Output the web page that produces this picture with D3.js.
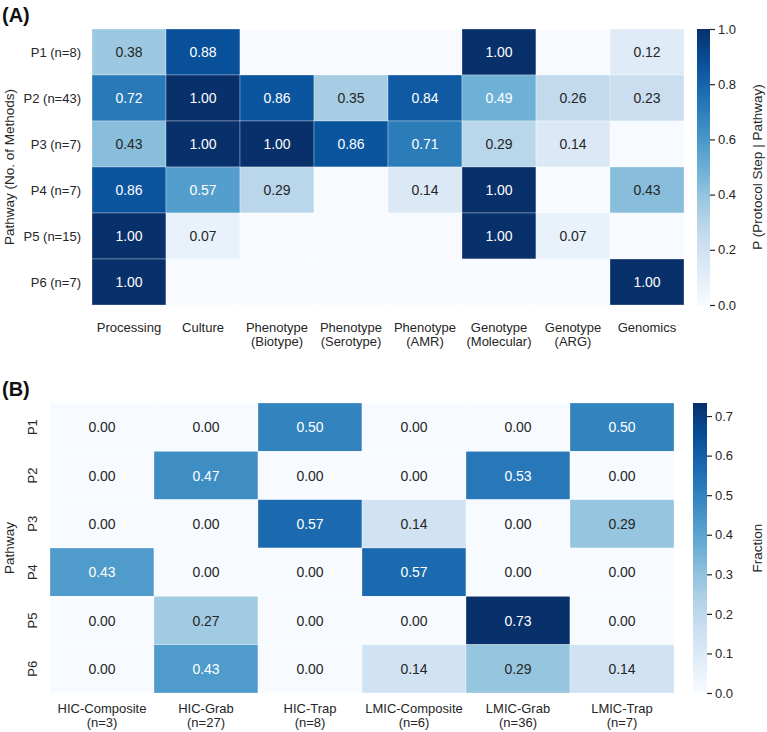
<!DOCTYPE html>
<html><head><meta charset="utf-8">
<script src="https://cdn.jsdelivr.net/npm/d3@7"></script>
<style>body{margin:0;background:#fff}text{font-family:Arial,"Liberation Sans",sans-serif}</style>
</head><body>
<script>
// ---- Panel A data ----
const stepsA = ["Processing","Culture","Phenotype\n(Biotype)","Phenotype\n(Serotype)","Phenotype\n(AMR)","Genotype\n(Molecular)","Genotype\n(ARG)","Genomics"];
const pathwaysA = ["P1 (n=8)","P2 (n=43)","P3 (n=7)","P4 (n=7)","P5 (n=15)","P6 (n=7)"];
const P1A = [0.38,0.88,0,0,0,1.00,0,0.12];
const P2A = [0.72,1.00,0.86,0.35,0.84,0.49,0.26,0.23];
const P3A = [0.43,1.00,1.00,0.86,0.71,0.29,0.14,0];
const P4A = [0.86,0.57,0.29,0,0.14,1.00,0,0.43];
const P5A = [1.00,0.07,0,0,0,1.00,0.07,0];
const P6A = [1.00,0,0,0,0,0,0,1.00];
const ticksA = [0,0.2,0.4,0.6,0.8,1.0];
// ---- Panel B data ----
const groupsB = ["HIC-Composite\n(n=3)","HIC-Grab\n(n=27)","HIC-Trap\n(n=8)","LMIC-Composite\n(n=6)","LMIC-Grab\n(n=36)","LMIC-Trap\n(n=7)"];
const pathwaysB = ["P1","P2","P3","P4","P5","P6"];
const P1B = [0,0,0.50,0,0,0.50];
const P2B = [0,0.47,0,0,0.53,0];
const P3B = [0,0,0.57,0.14,0,0.29];
const P4B = [0.43,0,0,0.57,0,0];
const P5B = [0,0.27,0,0,0.733,0];
const P6B = [0,0.43,0,0.14,0.29,0.14];
const ticksB = [0,0.1,0.2,0.3,0.4,0.5,0.6,0.7];

const matA = [P1A,P2A,P3A,P4A,P5A,P6A];
const matB = [P1B,P2B,P3B,P4B,P5B,P6B];

const bluesStops = ['#f7fbff','#deebf7','#c6dbef','#9ecae1','#6baed6','#4292c6','#2171b5','#08519c','#08306b'];
const blues = d3.scaleLinear().domain(bluesStops.map((d,i)=>i/(bluesStops.length-1))).range(bluesStops).interpolate(d3.interpolateRgb).clamp(true);

function lum(c){
  const r=d3.rgb(c);
  const f=v=>{v/=255;return v<=0.03928?v/12.92:Math.pow((v+0.055)/1.055,2.4);};
  return 0.2126*f(r.r)+0.7152*f(r.g)+0.0722*f(r.b);
}

const svg = d3.select("body").append("svg").attr("width",767).attr("height",732);

function heatmap(cfg){
  const g = svg.append("g");
  const x = d3.scaleBand().domain(d3.range(cfg.cols.length)).range([cfg.x0,cfg.x1]);
  const y = d3.scaleBand().domain(d3.range(cfg.rows.length)).range([cfg.y0,cfg.y1]);
  const c = d3.scaleLinear().domain([0,cfg.vmax]);
  const cells=[];
  cfg.mat.forEach((row,i)=>row.forEach((v,j)=>cells.push({i,j,v})));
  g.selectAll("rect.cell").data(cells).join("rect")
    .attr("x",d=>x(d.j)).attr("y",d=>y(d.i))
    .attr("width",x.bandwidth()).attr("height",y.bandwidth())
    .attr("fill",d=>blues(c(d.v)))
    .attr("stroke","#fff").attr("stroke-width",0.5).attr("stroke-opacity",0.6);
  g.selectAll("text.val").data(cells.filter(d=>cfg.showZero||d.v>0)).join("text")
    .attr("x",d=>x(d.j)+x.bandwidth()/2).attr("y",d=>y(d.i)+y.bandwidth()/2+5)
    .attr("text-anchor","middle").attr("font-size",14)
    .attr("fill",d=>lum(blues(c(d.v)))>0.408?"#262626":"#ffffff")
    .text(d=>d3.format(".2f")(d.v));
  // x labels
  cfg.cols.forEach((lab,j)=>{
    const lines=lab.split("\n");
    const t=g.append("text").attr("text-anchor","middle").attr("font-size",13).attr("fill","#262626");
    lines.forEach((ln,k)=>t.append("tspan").attr("x",x(j)+x.bandwidth()/2).attr("y",cfg.xlabY+k*13.5).text(ln));
  });
  // y labels
  cfg.rows.forEach((lab,i)=>{
    const cy=y(i)+y.bandwidth()/2;
    if(cfg.rotY){
      g.append("text").attr("transform",`translate(${cfg.ylabX},${cy}) rotate(-90)`).attr("text-anchor","middle")
        .attr("font-size",13).attr("fill","#262626").text(lab);
    } else {
      g.append("text").attr("x",cfg.ylabX).attr("y",cy+4.5).attr("text-anchor","end")
        .attr("font-size",13).attr("fill","#262626").text(lab);
    }
  });
  // y title
  g.append("text").attr("transform",`translate(${cfg.ytitleX},${(cfg.y0+cfg.y1)/2}) rotate(-90)`)
    .attr("text-anchor","middle").attr("font-size",13.5).attr("fill","#262626").text(cfg.ytitle);
  // colorbar
  const cb = d3.scaleLinear().domain([0,cfg.vmax]).range([cfg.y1,cfg.y0]);
  const gradId="grad"+cfg.id;
  const grad=svg.append("defs").append("linearGradient").attr("id",gradId)
    .attr("x1",0).attr("y1",1).attr("x2",0).attr("y2",0);
  d3.range(0,1.0001,0.05).forEach(t=>grad.append("stop").attr("offset",t).attr("stop-color",blues(t)));
  g.append("rect").attr("x",cfg.cbx).attr("y",cfg.y0).attr("width",cfg.cbw).attr("height",cfg.y1-cfg.y0).attr("fill",`url(#${gradId})`);
  const ax=g.append("g").attr("transform",`translate(${cfg.cbx+cfg.cbw},0)`)
    .call(d3.axisRight(cb).tickValues(cfg.ticks).tickFormat(d3.format(".1f")).tickSize(5).tickPadding(3));
  ax.select(".domain").remove();
  ax.selectAll("line").attr("stroke","#262626").attr("stroke-width",1.2);
  ax.selectAll("text").attr("font-size",13).attr("fill","#262626").attr("font-family","Arial, 'Liberation Sans', sans-serif");
  g.append("text").attr("transform",`translate(${cfg.cbtitleX},${(cfg.y0+cfg.y1)/2}) rotate(-90)`)
    .attr("text-anchor","middle").attr("font-size",13.5).attr("fill","#262626").text(cfg.cbtitle);
  // panel letter
  g.append("text").attr("x",2).attr("y",cfg.letterY).attr("font-size",20).attr("font-weight","bold").attr("fill","#111").text(cfg.letter);
}

heatmap({id:"A",mat:matA,cols:stepsA,rows:pathwaysA,x0:92,x1:684,y0:29,y1:305,vmax:1,showZero:false,
  xlabY:332,ylabX:81,rotY:false,ytitleX:14,ytitle:"Pathway (No. of Methods)",
  cbx:697,cbw:13,ticks:ticksA,cbtitleX:762,cbtitle:"P (Protocol Step | Pathway)",letter:"(A)",letterY:22});

heatmap({id:"B",mat:matB,cols:groupsB,rows:pathwaysB,x0:50,x1:674,y0:403,y1:693,vmax:d3.max(matB.flat()),showZero:true,
  xlabY:713,ylabX:37,rotY:true,ytitleX:14,ytitle:"Pathway",
  cbx:693,cbw:14,ticks:ticksB,cbtitleX:762,cbtitle:"Fraction",letter:"(B)",letterY:396});
</script>
</body></html>
